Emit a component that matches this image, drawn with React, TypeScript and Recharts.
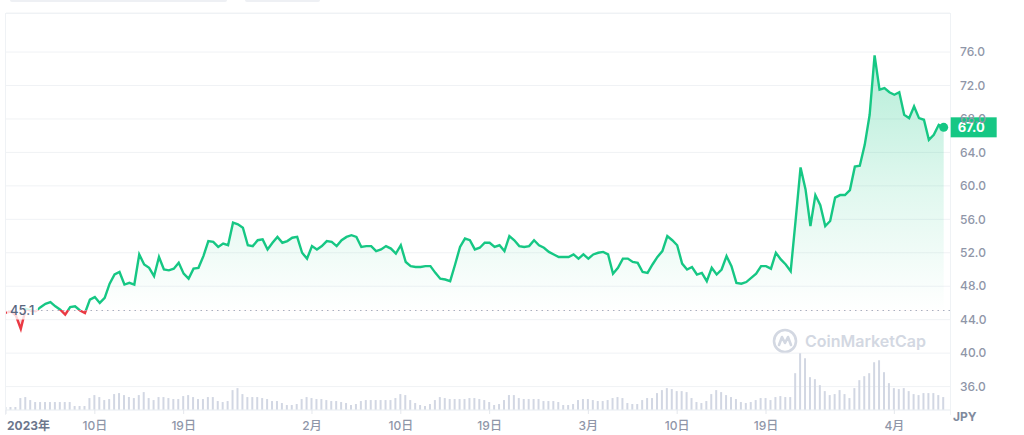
import {
  ComposedChart, Area, Bar, XAxis, YAxis, CartesianGrid, ReferenceLine, ReferenceDot,
} from "recharts";

// half-day samples starting 2023-01-01
const STEP_DAYS = 0.5;

const PRICE = [
  44.8, 45.0, 44.5, 42.9, 45.3, 45.1, 45.0, 45.5, 45.9, 46.1,
  45.6, 45.2, 44.6, 45.5, 45.6, 45.1, 44.8, 46.4, 46.7, 46.0,
  46.6, 48.3, 49.4, 49.7, 48.2, 48.4, 48.2, 51.8, 50.6, 50.2,
  49.2, 51.5, 50.0, 49.9, 50.1, 50.8, 49.5, 48.9, 50.1, 50.2,
  51.6, 53.4, 53.3, 52.7, 53.1, 52.9, 55.6, 55.4, 55.0, 52.9,
  52.8, 53.5, 53.6, 52.4, 53.2, 53.9, 53.2, 53.4, 53.8, 53.9,
  52.0, 51.3, 52.8, 52.4, 52.8, 53.4, 53.3, 52.8, 53.5, 53.9,
  54.1, 53.9, 52.7, 52.8, 52.8, 52.2, 52.4, 52.8, 52.5, 51.9,
  52.9, 50.9, 50.4, 50.3, 50.3, 50.4, 50.4, 49.6, 48.9, 48.8,
  48.6, 50.6, 52.7, 53.7, 53.5, 52.4, 52.6, 53.2, 53.2, 52.7,
  52.9, 52.2, 54.0, 53.5, 52.8, 52.7, 52.8, 53.5, 52.9, 52.6,
  52.1, 51.8, 51.5, 51.5, 51.5, 51.8, 51.3, 51.8, 51.3, 51.8,
  52.0, 52.1, 51.8, 49.5, 50.2, 51.3, 51.3, 50.9, 50.8, 49.7,
  49.6, 50.6, 51.5, 52.2, 54.0, 53.5, 52.9, 50.7, 50.0, 50.3,
  49.4, 49.6, 48.6, 50.2, 49.4, 50.0, 51.6, 50.4, 48.4, 48.3,
  48.5, 49.0, 49.5, 50.4, 50.4, 50.1, 52.0, 51.2, 50.6, 49.8,
  55.9, 62.2, 59.6, 55.2, 58.9, 57.7, 55.2, 55.8, 58.6, 58.9,
  58.9, 59.5, 62.3, 62.4, 64.9, 68.5, 75.6, 71.5, 71.7, 71.2,
  70.9, 71.2, 68.5, 68.1, 69.5, 68.1, 67.9, 65.5, 66.1, 67.3, 67.0,
];

const VOLUME = [
  3, 3, 3, 12, 13, 10, 8, 8, 8, 8,
  8, 8, 8, 8, 4, 4, 4, 12, 15, 13,
  10, 11, 16, 17, 15, 13, 12, 15, 18, 12,
  10, 13, 13, 12, 11, 11, 14, 15, 13, 11,
  11, 13, 13, 9, 8, 9, 20, 22, 16, 13,
  13, 13, 12, 11, 9, 9, 7, 5, 5, 6,
  11, 13, 12, 11, 11, 10, 9, 9, 8, 7,
  5, 6, 9, 10, 10, 10, 10, 10, 10, 12,
  16, 15, 10, 7, 5, 4, 6, 10, 13, 12,
  11, 11, 11, 11, 12, 12, 11, 10, 8, 5,
  6, 10, 15, 15, 12, 11, 11, 11, 11, 9,
  9, 9, 8, 5, 5, 6, 10, 11, 11, 10,
  9, 9, 10, 12, 13, 12, 7, 6, 6, 10,
  12, 12, 17, 20, 22, 21, 19, 19, 18, 12,
  8, 7, 9, 16, 20, 18, 15, 13, 11, 8,
  7, 8, 10, 12, 12, 10, 13, 14, 13, 13,
  37, 57, 52, 33, 31, 25, 19, 15, 16, 20,
  16, 12, 22, 30, 34, 37, 48, 50, 38, 27,
  22, 21, 22, 19, 16, 15, 17, 17, 17, 15, 13,
];

const BASELINE = 45.1;
const Y_TICKS = [36, 40, 44, 48, 52, 56, 60, 64, 68, 72, 76];
const X_TICKS = [0, 9, 18, 31, 40, 49, 59, 68, 77, 90];
const X_LABELS = ["2023年", "10日", "19日", "2月", "10日", "19日", "3月", "10日", "19日", "4月"];

const GREEN = "#16c784";
const RED = "#ea3943";
const MUTED = "#8f96a8";
const FONT = "Inter, 'Noto Sans CJK JP', sans-serif";

const data = PRICE.map((price, i) => ({ t: i * STEP_DAYS, price, vol: VOLUME[i] }));
const pMax = Math.max(...PRICE);
const pMin = Math.min(...PRICE);
const split = (pMax - BASELINE) / (pMax - pMin);
const last = data[data.length - 1];
const volPeak = Math.max(...VOLUME);

function XTick(props: any) {
  const { x, y, payload } = props;
  const idx = X_TICKS.indexOf(payload.value);
  const first = idx === 0;
  return (
    <text
      x={first ? x + 1 : x}
      y={y}
      dy={14}
      textAnchor={first ? "start" : "middle"}
      fill={first ? "#6b768c" : MUTED}
      fontSize={12}
      fontWeight={first ? 700 : 500}
      fontFamily={FONT}
    >
      {X_LABELS[idx]}
    </text>
  );
}

function BaseLabel(props: any) {
  const vb = props.viewBox || {};
  const x = (vb.x ?? 6) + 1;
  const y = vb.y ?? 0;
  return (
    <g>
      <rect x={x} y={y - 9} width={31} height={18} fill="#fff" fillOpacity={0.8} />
      <text x={x + 3} y={y} dy={4.5} fill="#58667e" fontSize={13} fontWeight={500} fontFamily={FONT}>
        {BASELINE.toFixed(1)}
      </text>
    </g>
  );
}

function EndMarker(props: any) {
  const { cx, cy } = props;
  return (
    <g>
      <circle cx={cx} cy={cy} r={4.5} fill={GREEN} />
      <rect x={cx + 7} y={cy - 10} width={46} height={20} fill={GREEN} />
      <text x={cx + 14} y={cy} dy={4.5} fill="#fff" fontSize={13} fontWeight={700} fontFamily={FONT}>
        {last.price.toFixed(1)}
      </text>
    </g>
  );
}

export default function App() {
  return (
    <div style={{ position: "absolute", left: 0, top: 0, width: 1024, height: 435, background: "#fff", overflow: "hidden" }}>
      <div style={{ position: "absolute", left: 10, top: 0, width: 217, height: 2, background: "#eef0f4", borderRadius: "0 0 4px 4px" }} />
      <div style={{ position: "absolute", left: 245, top: 0, width: 75, height: 2, background: "#eef0f4", borderRadius: "0 0 4px 4px" }} />
      <div style={{ position: "absolute", left: 5, top: 13, width: 946, height: 402, boxSizing: "border-box", borderTop: "1px solid #eff2f5", borderLeft: "1px solid #eff2f5", borderRight: "1px solid #eff2f5" }} />
      <div style={{ position: "absolute", left: 772, top: 328, display: "flex", alignItems: "center", gap: 7, color: "#d3d8e2", fontFamily: FONT, fontSize: 16, fontWeight: 600 }}>
        <svg width={26} height={26} viewBox="0 0 26 26">
          <circle cx={13} cy={13} r={11} fill="none" stroke="#d3d8e2" strokeWidth={2.6} />
          <path d="M7 17 L10 9 L13 15 L16 9 L19 17" fill="none" stroke="#d3d8e2" strokeWidth={2.6} strokeLinejoin="round" strokeLinecap="round" />
        </svg>
        <span>CoinMarketCap</span>
      </div>
      <div style={{ position: "absolute", left: 953, top: 409, color: "#808a9d", fontFamily: FONT, fontSize: 12, fontWeight: 700 }}>JPY</div>
      <div style={{ position: "absolute", left: 0, top: 0 }}>
        <ComposedChart width={1024} height={435} data={data} margin={{ top: 13, right: 0, bottom: 0, left: 6 }}>
          <defs>
            <linearGradient id="lineSplit" x1="0" y1="0" x2="0" y2="1">
              <stop offset={split} stopColor={GREEN} />
              <stop offset={split} stopColor={RED} />
            </linearGradient>
            <linearGradient id="fillSplit" x1="0" y1="0" x2="0" y2="1">
              <stop offset={0} stopColor={GREEN} stopOpacity={0.32} />
              <stop offset={split * 0.5} stopColor={GREEN} stopOpacity={0.14} />
              <stop offset={split} stopColor={GREEN} stopOpacity={0.0} />
              <stop offset={split} stopColor={RED} stopOpacity={0.05} />
              <stop offset={1} stopColor={RED} stopOpacity={0.25} />
            </linearGradient>
          </defs>
          <CartesianGrid vertical={false} stroke="#f0f2f5" />
          <XAxis
            dataKey="t"
            type="number"
            domain={[0, 95.64]}
            allowDataOverflow
            ticks={X_TICKS}
            interval={0}
            tick={<XTick />}
            tickSize={4}
            tickLine={{ stroke: "#e4e7ec" }}
            axisLine={{ stroke: "#eff2f5" }}
            height={25}
          />
          <YAxis
            orientation="right"
            domain={[33.2, 80.67]}
            allowDataOverflow
            ticks={Y_TICKS}
            tickFormatter={(v: number) => v.toFixed(1)}
            axisLine={false}
            tickLine={false}
            tickMargin={4}
            width={74}
            tick={{ fill: MUTED, fontSize: 12, fontWeight: 500, fontFamily: FONT }}
          />
          <YAxis yAxisId="vol" hide domain={[0, volPeak * 7]} />
          <Bar yAxisId="vol" dataKey="vol" fill="#d2d7e3" barSize={2} isAnimationActive={false} />
          <Area
            type="linear"
            dataKey="price"
            baseValue={BASELINE}
            stroke="url(#lineSplit)"
            strokeWidth={2.4}
            fill="url(#fillSplit)"
            fillOpacity={1}
            dot={false}
            activeDot={false}
            isAnimationActive={false}
          />
          <ReferenceLine y={BASELINE} stroke="#a9b0c0" strokeDasharray="1.5 4" strokeWidth={1.2} label={BaseLabel} zIndex={1500} />
          <ReferenceDot x={last.t} y={last.price} r={4} ifOverflow="visible" shape={EndMarker} zIndex={1600} />
        </ComposedChart>
      </div>
    </div>
  );
}
